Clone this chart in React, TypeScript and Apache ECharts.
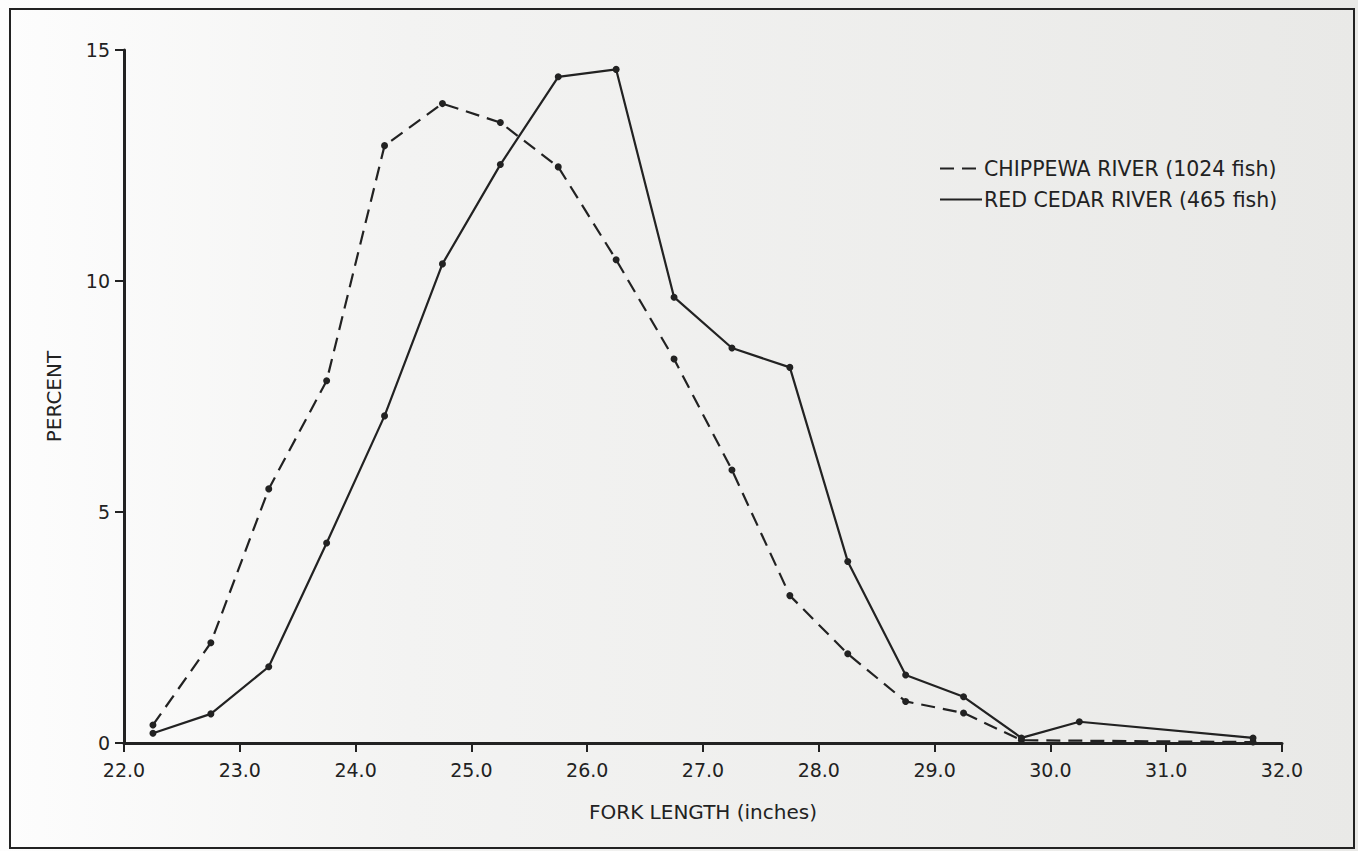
import React, { useEffect, useRef } from "react";
import * as echarts from "echarts";

const forkLengths = [22.25, 22.75, 23.25, 23.75, 24.25, 24.75, 25.25, 25.75, 26.25, 26.75, 27.25, 27.75, 28.25, 28.75, 29.25, 29.75];
const chippewaValues = [0.39, 2.17, 5.5, 7.84, 12.93, 13.84, 13.43, 12.47, 10.46, 8.31, 5.91, 3.19, 1.93, 0.9, 0.65, 0.06];
const chippewaTailX = [31.75];
const chippewaTail = [0.02];
const redCedarValues = [0.21, 0.63, 1.65, 4.33, 7.08, 10.37, 12.52, 14.42, 14.58, 9.65, 8.55, 8.13, 3.93, 1.47, 1.0, 0.11];
const redCedarTailX = [30.25, 31.75];
const redCedarTail = [0.46, 0.11];
const seriesNames = ["CHIPPEWA RIVER (1024 fish)", "RED CEDAR RIVER (465 fish)"];
const xTitle = "FORK LENGTH (inches)";
const yTitle = "PERCENT";

const INK = "#222";
const FONT = "'DejaVu Sans', sans-serif";

export default function App() {
  const ref = useRef<HTMLDivElement>(null);
  useEffect(() => {
    if (!ref.current) return;
    const chart = echarts.init(ref.current, undefined, { renderer: "svg" });
    const chipData = forkLengths.map((x, i) => [x, chippewaValues[i]]).concat(chippewaTailX.map((x, i) => [x, chippewaTail[i]]));
    const redData = forkLengths.map((x, i) => [x, redCedarValues[i]]).concat(redCedarTailX.map((x, i) => [x, redCedarTail[i]]));
    chart.setOption({
      animation: false,
      backgroundColor: {
        type: "linear", x: 0, y: 0, x2: 1, y2: 0,
        colorStops: [
          { offset: 0, color: "#fdfdfd" },
          { offset: 0.3, color: "#f3f3f2" },
          { offset: 1, color: "#e9e9e7" },
        ],
      },
      grid: { left: 124, right: 76, top: 50, bottom: 108, containLabel: false },
      legend: {
        orient: "vertical",
        left: 934,
        top: 153,
        itemGap: 10,
        itemWidth: 42,
        itemHeight: 20,
        itemStyle: { opacity: 0 },
        textStyle: { color: INK, fontSize: 20.5, fontFamily: FONT, padding: [0, 0, 0, -3] },
        data: seriesNames,
      },
      xAxis: {
        type: "value",
        min: 22,
        max: 32,
        interval: 1,
        name: xTitle,
        nameLocation: "middle",
        nameGap: 59,
        nameTextStyle: { color: INK, fontSize: 20, fontFamily: FONT },
        axisLine: { show: true, onZero: false, lineStyle: { color: INK, width: 3 } },
        axisTick: { show: true, length: 9, lineStyle: { color: INK, width: 2 } },
        axisLabel: { color: INK, fontSize: 19, fontFamily: FONT, margin: 17, formatter: (v: number) => v.toFixed(1) },
        splitLine: { show: false },
      },
      yAxis: {
        type: "value",
        min: 0,
        max: 15,
        interval: 5,
        name: yTitle,
        nameLocation: "middle",
        nameGap: 60,
        nameRotate: 90,
        nameTextStyle: { color: INK, fontSize: 20, fontFamily: FONT },
        axisLine: { show: true, lineStyle: { color: INK, width: 3 } },
        axisTick: { show: true, length: 9, lineStyle: { color: INK, width: 2 } },
        axisLabel: { color: INK, fontSize: 19, fontFamily: FONT, margin: 14 },
        splitLine: { show: false },
      },
      series: [
        {
          name: seriesNames[0],
          type: "line",
          data: chipData,
          symbol: "circle",
          symbolSize: 7,
          itemStyle: { color: INK },
          lineStyle: { color: INK, width: 2.2, type: [14, 8] },
        },
        {
          name: seriesNames[1],
          type: "line",
          data: redData,
          symbol: "circle",
          symbolSize: 7,
          itemStyle: { color: INK },
          lineStyle: { color: INK, width: 2.2 },
        },
      ],
      graphic: [
        {
          type: "rect",
          shape: { x: 10, y: 9, width: 1344, height: 839 },
          style: { fill: "none", stroke: INK, lineWidth: 2 },
          silent: true,
        },
      ],
    });
    return () => chart.dispose();
  }, []);
  return <div ref={ref} style={{ width: 1358, height: 851, position: "absolute", left: 0, top: 0 }} />;
}
